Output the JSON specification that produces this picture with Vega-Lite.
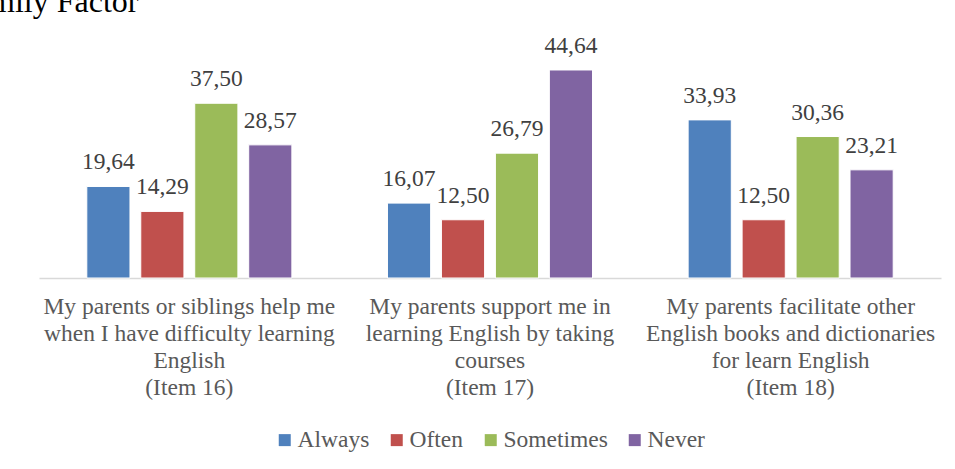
{
  "$schema": "https://vega.github.io/schema/vega-lite/v6.json",
  "width": 902,
  "height": 233,
  "autosize": {"type": "none"},
  "padding": {"left": 39, "top": 45, "right": 14, "bottom": 191},
  "background": "white",
  "config": {
    "view": {"stroke": null},
    "locale": {"number": {"decimal": ",", "thousands": ".", "grouping": [3], "currency": ["", ""]}},
    "text": {"font": "Liberation Serif, serif"},
    "legend": {"labelFont": "Liberation Serif, serif"},
    "axis": {"labelFont": "Liberation Serif, serif"}
  },
  "title": {
    "text": "Family Factor",
    "anchor": "start",
    "frame": "group",
    "font": "Liberation Serif, serif",
    "fontSize": 32,
    "fontWeight": "normal",
    "color": "#000000",
    "dx": -81,
    "offset": 15
  },
  "data": {
    "values": [
      {"item": "My parents or siblings help me|when I have difficulty learning|English|(Item 16)", "series": "Always", "value": 19.64},
      {"item": "My parents or siblings help me|when I have difficulty learning|English|(Item 16)", "series": "Often", "value": 14.29},
      {"item": "My parents or siblings help me|when I have difficulty learning|English|(Item 16)", "series": "Sometimes", "value": 37.50},
      {"item": "My parents or siblings help me|when I have difficulty learning|English|(Item 16)", "series": "Never", "value": 28.57},
      {"item": "My parents support me in|learning English by taking|courses|(Item 17)", "series": "Always", "value": 16.07},
      {"item": "My parents support me in|learning English by taking|courses|(Item 17)", "series": "Often", "value": 12.50},
      {"item": "My parents support me in|learning English by taking|courses|(Item 17)", "series": "Sometimes", "value": 26.79},
      {"item": "My parents support me in|learning English by taking|courses|(Item 17)", "series": "Never", "value": 44.64},
      {"item": "My parents facilitate other|English books and dictionaries|for learn English|(Item 18)", "series": "Always", "value": 33.93},
      {"item": "My parents facilitate other|English books and dictionaries|for learn English|(Item 18)", "series": "Often", "value": 12.50},
      {"item": "My parents facilitate other|English books and dictionaries|for learn English|(Item 18)", "series": "Sometimes", "value": 30.36},
      {"item": "My parents facilitate other|English books and dictionaries|for learn English|(Item 18)", "series": "Never", "value": 23.21}
    ]
  },
  "encoding": {
    "x": {
      "field": "item",
      "type": "nominal",
      "sort": null,
      "scale": {"paddingInner": 0.318, "paddingOuter": 0.159},
      "axis": {
        "title": null,
        "labelAngle": 0,
        "labelExpr": "split(datum.value, '|')",
        "labelFont": "Liberation Serif, serif",
        "labelFontSize": 23.5,
        "labelColor": "#595959",
        "labelLineHeight": 27,
        "labelPadding": 16,
        "labelLimit": 400,
        "ticks": false,
        "domainColor": "#d9d9d9",
        "domainWidth": 1.5
      }
    },
    "xOffset": {
      "field": "series",
      "type": "nominal",
      "sort": ["Always", "Often", "Sometimes", "Never"],
      "scale": {"paddingInner": 0.2, "paddingOuter": 0}
    },
    "y": {
      "field": "value",
      "type": "quantitative",
      "scale": {"domain": [0, 50], "nice": false},
      "axis": null
    }
  },
  "layer": [
    {
      "mark": {"type": "bar", "stroke": "white", "strokeWidth": 1},
      "encoding": {
        "color": {
          "field": "series",
          "type": "nominal",
          "sort": ["Always", "Often", "Sometimes", "Never"],
          "scale": {"domain": ["Always", "Often", "Sometimes", "Never"], "range": ["#4f81bd", "#c0504d", "#9bbb59", "#8064a2"]},
          "legend": {
            "title": null,
            "orient": "none",
            "legendX": 234,
            "legendY": 383,
            "direction": "horizontal",
            "symbolType": "square",
            "symbolSize": 144,
            "symbolStrokeWidth": 0,
            "labelFont": "Liberation Serif, serif",
            "labelFontSize": 23.5,
            "labelColor": "#595959",
            "labelOffset": 1,
            "columnPadding": 15
          }
        }
      }
    },
    {
      "mark": {"type": "text", "baseline": "alphabetic", "dy": -17, "font": "Liberation Serif, serif", "fontSize": 23.5, "color": "#404040"},
      "encoding": {
        "text": {"field": "value", "type": "quantitative", "format": ".2f"}
      }
    }
  ]
}
